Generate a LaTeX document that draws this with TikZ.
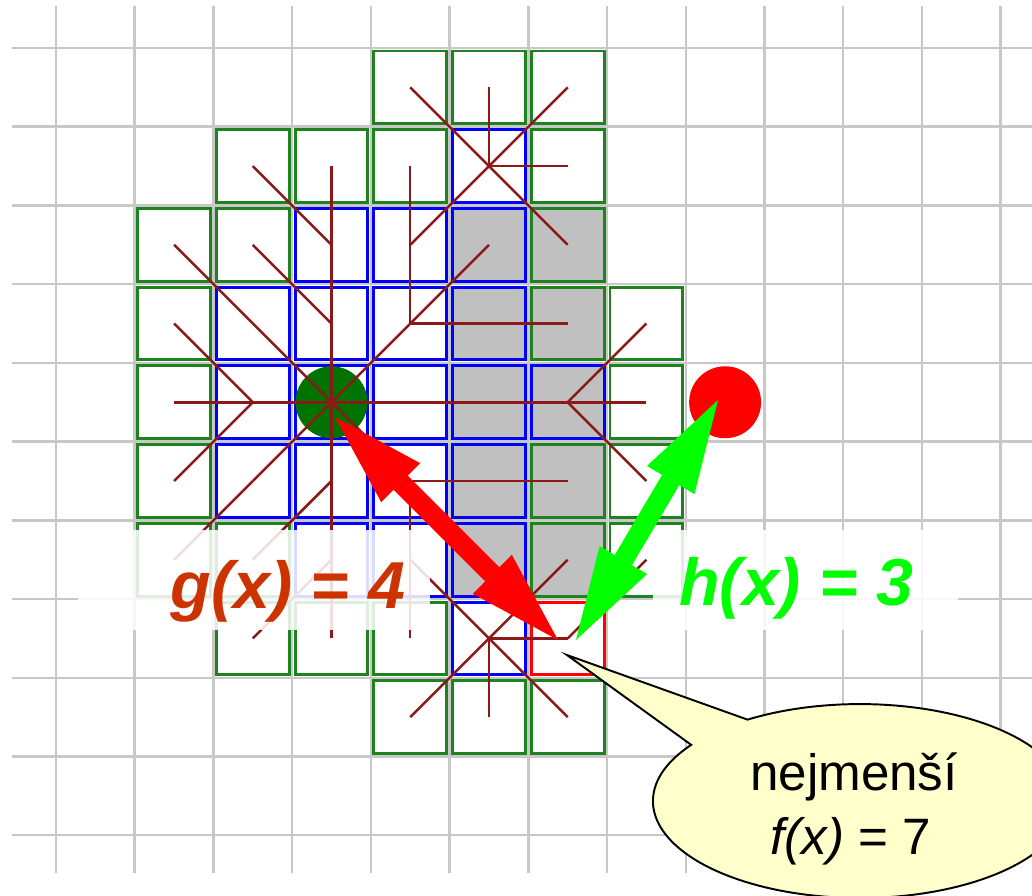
\documentclass[tikz,border=0pt]{standalone}
\usepackage{fontspec}
\setmainfont{Liberation Sans}
\usetikzlibrary{arrows.meta}
\definecolor{gridc}{RGB}{200,200,200}
\definecolor{openc}{RGB}{30,130,30}
\definecolor{closedc}{RGB}{0,0,255}
\definecolor{wallc}{RGB}{192,192,192}
\definecolor{ptrc}{RGB}{140,25,25}
\definecolor{startc}{RGB}{0,115,0}
\definecolor{goalc}{RGB}{255,0,0}
\definecolor{harrowc}{RGB}{0,255,0}
\definecolor{glabelc}{RGB}{204,51,0}
\definecolor{calloutc}{RGB}{255,255,204}
\begin{document}
\begin{tikzpicture}[x=1cm,y=-1cm,
  gridline/.style={draw=gridc,line width=0.9pt},
  openbox/.style={draw=openc,line width=1.05pt},
  closedbox/.style={draw=closedc,line width=1.05pt},
  wallopen/.style={openbox,fill=wallc},
  wallclosed/.style={closedbox,fill=wallc},
  currentbox/.style={draw=goalc,line width=1.05pt},
  ptr/.style={draw=ptrc,line width=0.9pt},
  dot/.style={circle,inner sep=0pt,minimum size=0.914cm},
  bigarrow/.style={line width=0.254cm,
    {Triangle[length=1.18cm,width=0.70cm,line width=0pt]}-{Triangle[length=1.18cm,width=0.70cm,line width=0pt]}},
  labelbg/.style={fill=white,fill opacity=0.86},
  biglabel/.style={anchor=base,inner sep=0pt,font=\fontsize{24}{28}\selectfont\bfseries\itshape},
  callouttext/.style={anchor=base,inner sep=0pt,font=\fontsize{18.5}{23}\selectfont},
]
\useasboundingbox (-0.7114,-0.6098) rectangle (12.3984,10.7597);
\clip (-0.7114,-0.6098) rectangle (12.3984,10.7597);

% grid
\foreach \k in {0,...,12} \draw[gridline] (\k,-0.534) -- (\k,10.480);
\foreach \j in {0,...,10} \draw[gridline] (-0.559,\j) -- (12.5,\j);

% cell centres
\foreach \c in {0,...,9} {\foreach \r in {0,...,9} {\coordinate (p\c-\r) at (\c+0.5,\r+0.5);}}

% cells
\foreach \c/\r in {4/0,5/0,6/0, 2/1,3/1,4/1,6/1, 1/2,2/2, 1/3,7/3, 1/4,7/4, 1/5,7/5, 1/6,2/6,7/6, 2/7,3/7,4/7, 4/8,5/8,6/8}
  \draw[openbox] (\c+0.038,\r+0.038) rectangle ++(0.924,0.924);
\foreach \c/\r in {6/2,6/3,6/5,6/6}
  \draw[wallopen] (\c+0.038,\r+0.038) rectangle ++(0.924,0.924);
\foreach \c/\r in {5/1, 3/2,4/2, 2/3,3/3,4/3, 2/4,3/4,4/4, 2/5,3/5,4/5, 3/6,4/6, 5/7}
  \draw[closedbox] (\c+0.038,\r+0.038) rectangle ++(0.924,0.924);
\foreach \c/\r in {5/2,5/3,5/4,6/4,5/5,5/6}
  \draw[wallclosed] (\c+0.038,\r+0.038) rectangle ++(0.924,0.924);
\draw[currentbox] (6.038,7.038) rectangle ++(0.924,0.924);

% start
\node[dot,fill=startc] (start) at (p3-4) {};

% parent pointers
\foreach \a/\b in {4-0/5-1, 5-0/5-1, 6-0/5-1,
  2-1/3-2, 3-1/3-2, 4-1/4-2, 5-1/4-2, 6-1/5-1,
  1-2/2-3, 2-2/3-3, 3-2/3-3, 4-2/4-3, 5-2/4-3, 6-2/5-1,
  1-3/2-4, 2-3/3-4, 3-3/3-4, 4-3/3-4, 5-3/4-3, 6-3/5-3, 7-3/6-4,
  1-4/2-4, 2-4/3-4, 4-4/3-4, 5-4/4-4, 6-4/5-4, 7-4/6-4,
  1-5/2-4, 2-5/3-4, 3-5/3-4, 4-5/3-4, 5-5/4-5, 6-5/5-5, 7-5/6-4,
  1-6/2-5, 2-6/3-5, 3-6/3-5, 4-6/4-5, 5-6/4-5, 6-6/5-7, 7-6/6-7,
  2-7/3-6, 3-7/3-6, 4-7/4-6, 5-7/4-6, 6-7/5-7,
  4-8/5-7, 5-8/5-7, 6-8/5-7}
  \draw[ptr] (p\a) -- (p\b);

% goal
\node[dot,fill=goalc] (goal) at (p8-4) {};

% label backgrounds and labels
\fill[labelbg] (0.279,6.123) rectangle (4.751,7.393);
\fill[labelbg] (7.584,6.123) rectangle (11.458,7.393);
\node[biglabel,text=glabelc] (glab) at (2.947,7.114) {g(x) = 4};
\node[biglabel,text=harrowc] (hlab) at (9.407,7.076) {h(x) = 3};

% arrows
\coordinate (ra) at (3.544,4.687);
\coordinate (rb) at (6.377,7.520);
\coordinate (ga) at (6.606,7.520);
\coordinate (gb) at (8.410,4.472);
\draw[bigarrow,draw=goalc,fill=goalc] (ra) -- (rb);
\draw[bigarrow,draw=harrowc,fill=harrowc] (ga) -- (gb);

% callout
\coordinate (ctip) at (6.491,7.711);
\draw[fill=calloutc,draw=black,line width=0.7pt,line join=miter]
  (ctip) -- plot[domain=144.6:482.9,samples=160] ({10.213+2.630*cos(\x)},{9.566-1.232*sin(\x)}) -- cycle;
\node[callouttext] (c1) at (10.137,9.438) {nejmenší};
\node[callouttext] (c2) at (10.099,10.251) {\textit{f(x)} = 7};
\end{tikzpicture}
\end{document}
